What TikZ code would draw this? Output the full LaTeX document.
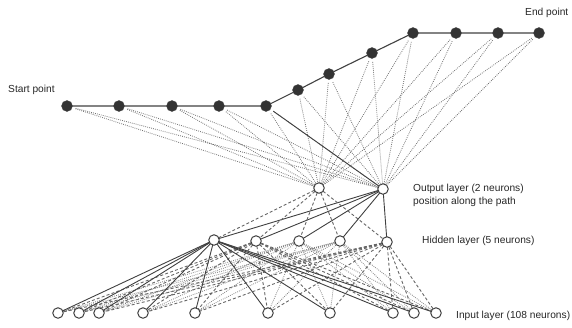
\documentclass[tikz,border=0pt]{standalone}
\usepackage{fontspec}
\setmainfont{Liberation Sans}
\begin{document}
\begin{tikzpicture}[x=1pt,y=-1pt,
  pathpt/.style={circle,fill=black!80,draw=black!70,inner sep=0pt,minimum size=11pt},
  neuron/.style={circle,draw=black!75,line width=1pt,fill=white,inner sep=0pt,minimum size=10.5pt},
  lbl/.style={anchor=west,inner sep=0pt,font=\fontsize{10.2}{12}\selectfont,text=black!85},
  pathline/.style={draw=black!75,line width=1.1pt},
  solidw/.style={draw=black!75,line width=0.9pt},
  dashw/.style={draw=black!60,line width=0.9pt,dash pattern=on 3pt off 2.2pt},
  dotw/.style={draw=black!50,line width=0.8pt,dash pattern=on 0.8pt off 1.2pt},
  pdot/.style={draw=black!55,line width=0.8pt,dash pattern=on 0.8pt off 1.2pt,shorten <=9pt,shorten >=4pt}
]
\useasboundingbox (0,0) rectangle (572,327);

% path points
\foreach \i/\x/\y in {1/67/106,2/119/106,3/172/106,4/219/106,5/266/106,6/298/90,7/329/74,8/372/53,9/413/33,10/456/33,11/498/33,12/539/33}
  \coordinate (p\i) at (\x,\y);

% neurons coordinates
\coordinate (o1) at (319,188);
\coordinate (o2) at (383,189);
\foreach \i/\x/\y in {1/214/240,2/256/241,3/299/241,4/340/241,5/387/242}
  \coordinate (h\i) at (\x,\y);
\foreach \i/\x in {1/58,2/79,3/99,4/143,5/195,6/268,7/330,8/393,9/414,10/436}
  \coordinate (in\i) at (\x,313);

% input -> hidden
\foreach \j in {1,...,10} {
  \draw[dashw] (h2) -- (in\j);
  \draw[dotw] (h3) -- (in\j);
  \draw[dotw] (h4) -- (in\j);
  \draw[dashw] (h5) -- (in\j);
}
\foreach \j in {1,...,10}
  \draw[solidw] (h1) -- (in\j);

% hidden -> output
\foreach \k in {1,...,5} {
  \draw[dashw] (o1) -- (h\k);
  \draw[solidw] (o2) -- (h\k);
}

% path -> output
\foreach \i in {1,...,12} {
  \draw[pdot] (p\i) -- (o1);
  \draw[pdot] (p\i) -- (o2);
}
\draw[solidw,shorten <=9pt,shorten >=5pt] (p5) -- (o2);

% path
\draw[pathline] (p1) -- (p2) -- (p3) -- (p4) -- (p5) -- (p6) -- (p7) -- (p8) -- (p9) -- (p10) -- (p11) -- (p12);

% nodes
\foreach \i in {1,...,12} \node[pathpt] (np\i) at (p\i) {};
\node[neuron] (no1) at (o1) {};
\node[neuron] (no2) at (o2) {};
\foreach \i in {1,...,5} \node[neuron] (nh\i) at (h\i) {};
\foreach \i in {1,...,10} \node[neuron] (nin\i) at (in\i) {};

% labels
\node[lbl] (ls) at (8,90) {Start point};
\node[lbl] (le) at (525,13) {End point};
\node[lbl] (lo) at (413,189) {Output layer (2 neurons)};
\node[lbl] (lo2) at (413,202) {position along the path};
\node[lbl] (lh) at (422,241) {Hidden layer (5 neurons)};
\node[lbl] (li) at (456,316) {Input layer (108 neurons)};
\end{tikzpicture}
\end{document}
